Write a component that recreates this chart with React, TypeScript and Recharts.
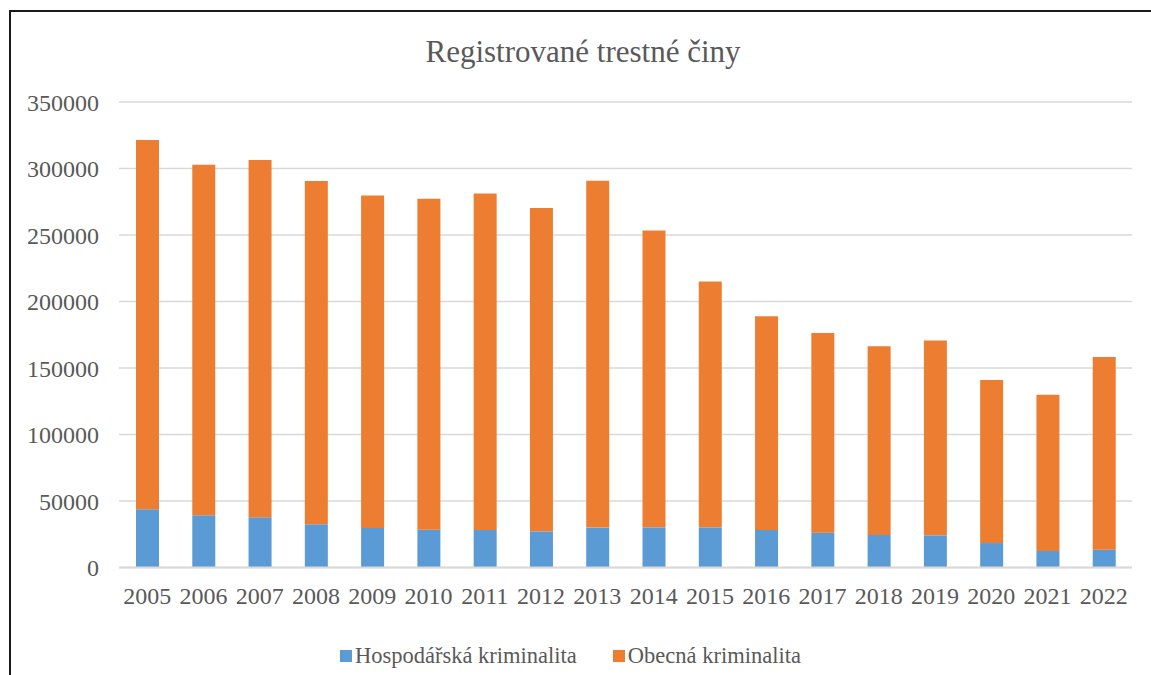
import React from 'react';
import { BarChart, Bar, XAxis, YAxis, CartesianGrid } from 'recharts';

const years = ['2005', '2006', '2007', '2008', '2009', '2010', '2011', '2012', '2013', '2014', '2015', '2016', '2017', '2018', '2019', '2020', '2021', '2022'];
const hospodarska = [43800, 39300, 37800, 32500, 29700, 28400, 28200, 27200, 30000, 30200, 30200, 28200, 26200, 24500, 24200, 18400, 12400, 13400];
const obecna = [277600, 263500, 268600, 258100, 250000, 248900, 253000, 243100, 260800, 223200, 184800, 160800, 150200, 141900, 146400, 122500, 117400, 144800];
const yTicks = [0, 50000, 100000, 150000, 200000, 250000, 300000, 350000];
const title = 'Registrované trestné činy';
const seriesNames = ['Hospodářská kriminalita', 'Obecná kriminalita'];
const colors = ['#5B9BD5', '#ED7D31'];

const data = years.map((y, i) => ({ year: y, h: hospodarska[i], o: obecna[i] }));

const FONT = '"Liberation Serif", "Times New Roman", serif';
const TEXT = '#595959';

export default function App() {
  return (
    <div style={{ position: 'absolute', left: 0, top: 0, width: 1151, height: 675, overflow: 'hidden', background: '#fff', fontFamily: FONT }}>
      <div style={{ position: 'absolute', left: 9, top: 10, width: 1300, height: 800, borderTop: '2px solid #1a1a1a', borderLeft: '2px solid #1a1a1a' }} />
      <div style={{ position: 'absolute', left: 283, width: 600, top: 34, textAlign: 'center', fontSize: 31, lineHeight: '36px', color: TEXT }}>{title}</div>
      <div style={{ position: 'absolute', left: 0, top: 0 }}>
        <BarChart width={1151} height={675} data={data} margin={{ top: 102, right: 19, bottom: 77.5, left: 0 }}>
          <CartesianGrid vertical={false} stroke="#d9d9d9" strokeWidth={1.5} />
          <XAxis dataKey="year" height={30} tickSize={0} tickMargin={19} axisLine={{ stroke: '#d9d9d9', strokeWidth: 2 }} tickLine={false} tick={{ fill: TEXT, fontSize: 24, fontFamily: FONT }} interval={0} />
          <YAxis width={119} domain={[0, 350000]} ticks={yTicks} tickSize={0} tickMargin={20} axisLine={false} tickLine={false} tick={{ fill: TEXT, fontSize: 24, fontFamily: FONT }} />
          <Bar dataKey="h" stackId="a" fill={colors[0]} barSize={23} isAnimationActive={false} />
          <Bar dataKey="o" stackId="a" fill={colors[1]} barSize={23} isAnimationActive={false} />
        </BarChart>
      </div>
      <div style={{ position: 'absolute', left: 340, top: 643, display: 'flex', alignItems: 'center', fontSize: 22.5, color: TEXT, whiteSpace: 'nowrap' }}>
        {seriesNames.map((n, i) => (
          <div key={n} style={{ display: 'flex', alignItems: 'center', marginRight: i === 0 ? 36 : 0 }}>
            <div style={{ width: 12, height: 12, background: colors[i], marginRight: 3 }} />
            <span>{n}</span>
          </div>
        ))}
      </div>
    </div>
  );
}
